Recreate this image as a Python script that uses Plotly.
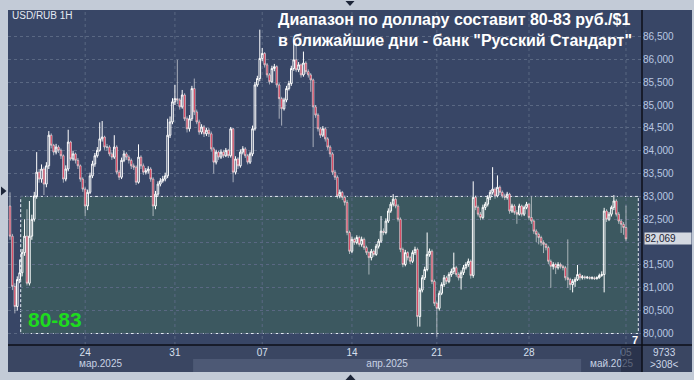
import plotly.graph_objects as go

# ---------------- data ----------------
SYMBOL = "USD/RUB 1H"
TITLE_L1 = "Диапазон по доллару составит 80-83 руб./$1"
TITLE_L2 = 'в ближайшие дни - банк "Русский Стандарт"'
range_low, range_high = 80, 83

first_open = 82.79
C = [82.13, 81.03, 80.59, 81.18, 81.33, 81.77, 82.13, 81.10, 82.13, 82.50, 83.01, 83.53, 83.38, 83.60, 83.27, 83.67, 84.34,
     84.12, 83.97, 84.08, 84.01, 83.89, 83.38, 83.60, 84.19, 83.82, 83.93, 83.79, 83.67, 83.38, 83.16, 82.79, 83.09, 83.45, 83.71, 83.89, 84.01, 84.26, 84.30, 84.08,
     84.08, 83.93, 83.86, 84.08, 83.53, 83.42, 83.79, 83.93, 83.86, 83.79, 83.67, 83.64, 83.31, 83.86, 83.67, 83.53, 83.56, 83.60, 83.38, 82.79,
     83.05, 83.27, 83.34, 83.38, 83.45, 84.34, 84.63, 85.07, 85.14, 85.11, 84.96, 85.22, 84.70, 84.48, 84.70, 85.36, 84.85, 84.63, 84.41, 84.52,
     84.37, 84.45, 84.37, 84.04, 83.75, 83.97, 83.86, 83.97, 83.89, 84.01, 83.89, 84.48, 83.53, 83.82, 83.67, 83.97, 84.04, 83.89, 83.75, 83.93,
     84.48, 85.44, 85.58, 86.02, 86.13, 85.88, 85.66, 85.51, 85.80, 85.84, 85.44, 85.14, 84.92, 85.11, 85.36, 85.47, 85.80, 85.99, 85.77, 85.88,
     85.66, 85.92, 85.73, 85.66, 85.55, 84.96, 84.78, 84.48, 84.34, 84.48, 84.26, 84.08, 83.93, 83.53, 83.42, 83.01, 83.09, 82.98, 82.87, 82.21,
     81.80, 82.06, 81.99, 82.10, 81.95, 82.06, 81.88, 81.77, 81.66, 81.80, 81.73, 81.91, 82.02, 82.24, 82.21, 82.46, 82.68, 82.83, 82.94, 82.79,
     82.50, 81.84, 81.51, 81.77, 81.66, 81.58, 81.77, 81.84, 80.37, 80.95, 81.22, 81.40, 81.73, 81.80, 81.14, 80.66, 80.55, 80.88, 81.07, 81.22,
     81.14, 81.29, 81.36, 81.44, 81.29, 81.22, 81.33, 81.44, 81.51, 81.58, 81.27, 82.98, 82.76, 82.61, 82.54, 82.76, 82.83, 82.98, 83.09, 83.16,
     83.01, 83.20, 83.09, 83.01, 82.98, 83.05, 82.68, 82.79, 82.65, 82.61, 82.79, 82.61, 82.76, 82.83, 82.54, 82.46, 82.24, 82.17, 82.10, 81.99,
     81.95, 81.88, 81.58, 81.47, 81.51, 81.44, 81.51, 81.47, 81.44, 81.22, 81.18, 81.07, 81.14, 81.18, 81.29, 81.22, 81.24, 81.22, 81.23, 81.21,
     81.22, 81.20, 81.22, 81.27, 81.29, 82.68, 82.50, 82.61, 82.76, 82.90, 82.61, 82.46, 82.39, 82.32, 82.069]
H = [83.09, 82.18, 81.10, 81.25, 81.62, 81.85, 82.50, 82.72, 82.90, 82.60, 83.10, 83.97, 83.60, 83.70, 83.65, 83.75, 84.43,
     84.38, 84.15, 84.15, 84.12, 84.05, 83.92, 83.68, 84.46, 84.22, 84.00, 83.96, 83.84, 83.70, 83.42, 83.20, 83.15, 83.52, 83.78, 83.95, 84.08, 84.62, 84.65, 84.33,
     84.15, 84.12, 83.98, 84.34, 84.12, 83.58, 83.85, 84.00, 83.97, 83.90, 83.83, 83.72, 83.68, 84.14, 83.90, 83.72, 83.62, 83.66, 83.64, 83.42,
     83.12, 83.33, 83.40, 83.45, 83.52, 84.70, 84.75, 85.15, 85.44, 85.99, 85.15, 85.33, 85.26, 84.75, 84.78, 85.42, 85.58, 84.90, 84.68, 84.58,
     84.56, 84.50, 84.50, 84.42, 84.08, 84.02, 84.00, 84.03, 84.02, 84.06, 84.04, 84.52, 84.50, 83.88, 83.86, 84.03, 84.10, 84.08, 83.93, 83.98,
     84.55, 85.50, 85.64, 86.65, 86.25, 86.16, 85.92, 85.70, 85.86, 85.90, 85.87, 85.48, 85.18, 85.16, 85.42, 85.53, 85.86, 86.43, 86.36, 85.94,
     85.91, 86.17, 85.96, 85.78, 85.70, 85.58, 85.00, 84.82, 84.52, 84.54, 84.52, 84.30, 84.12, 83.97, 83.58, 83.46, 83.15, 83.12, 83.02, 82.92,
     82.25, 82.12, 82.10, 82.15, 82.14, 82.12, 82.10, 81.92, 81.80, 81.85, 81.84, 81.96, 82.07, 82.57, 82.30, 82.52, 82.74, 82.88, 83.05, 82.98,
     82.83, 82.54, 81.88, 81.83, 81.80, 81.70, 81.82, 81.90, 81.88, 81.00, 81.28, 81.46, 82.21, 81.86, 81.84, 81.18, 80.70, 80.94, 81.12, 81.28,
     81.26, 81.34, 81.42, 81.77, 81.48, 81.34, 81.38, 81.50, 81.56, 81.64, 81.62, 83.33, 83.02, 82.80, 82.66, 82.82, 82.88, 83.03, 83.14, 83.64,
     83.20, 83.46, 83.24, 83.13, 83.06, 83.10, 83.08, 82.84, 82.83, 82.70, 82.84, 82.82, 82.80, 82.88, 82.86, 83.01, 82.50, 82.28, 82.21, 82.14,
     82.04, 81.98, 81.92, 81.62, 81.56, 81.55, 81.56, 81.55, 81.50, 81.48, 82.06, 81.22, 81.19, 81.23, 81.50, 81.33, 81.28, 81.27, 81.26, 81.25,
     81.25, 81.25, 81.25, 81.31, 81.36, 82.75, 82.72, 82.66, 82.80, 83.03, 82.94, 82.66, 82.50, 82.44, 82.80]
L = [82.05, 80.95, 80.44, 80.50, 81.10, 81.25, 81.70, 81.05, 81.05, 82.05, 82.45, 82.95, 83.30, 83.30, 83.03, 83.20, 83.60,
     84.05, 83.90, 83.92, 83.95, 83.82, 83.30, 83.33, 83.55, 83.78, 83.78, 83.72, 83.60, 83.32, 83.10, 82.57, 82.70, 83.05, 83.40, 83.65, 83.85, 83.98, 84.20, 84.02,
     84.00, 83.88, 83.80, 83.82, 83.48, 83.36, 83.38, 83.75, 83.80, 83.72, 83.60, 83.58, 83.25, 83.28, 83.60, 83.47, 83.48, 83.50, 83.32, 82.57,
     82.72, 83.00, 83.22, 83.30, 83.33, 83.40, 84.28, 84.58, 85.00, 85.02, 84.90, 84.92, 84.65, 84.40, 84.42, 84.65, 84.78, 84.58, 84.35, 84.36,
     84.30, 84.32, 84.30, 83.98, 83.50, 83.70, 83.80, 83.82, 83.84, 83.86, 83.84, 83.85, 83.31, 83.48, 83.60, 83.63, 83.92, 83.84, 83.70, 83.71,
     83.88, 84.44, 85.40, 85.52, 85.96, 85.82, 85.60, 85.45, 85.48, 85.74, 85.38, 84.70, 84.55, 84.88, 85.06, 85.32, 85.42, 85.75, 85.72, 85.72,
     85.60, 85.62, 85.68, 85.60, 85.29, 84.08, 84.72, 84.42, 84.28, 84.30, 84.20, 84.02, 83.86, 83.47, 83.36, 82.95, 82.96, 82.92, 82.80, 82.15,
     81.74, 81.76, 81.94, 81.95, 81.90, 81.90, 81.83, 81.72, 81.29, 81.60, 81.68, 81.70, 81.86, 81.98, 82.15, 82.17, 82.42, 82.64, 82.78, 82.74,
     82.45, 81.78, 81.45, 81.47, 81.60, 81.52, 81.54, 81.72, 80.15, 80.15, 80.90, 81.17, 81.36, 81.68, 81.08, 80.60, 79.93, 80.50, 80.84, 81.02,
     81.08, 81.10, 81.24, 81.30, 81.24, 81.16, 80.96, 81.28, 81.40, 81.46, 81.20, 81.22, 82.70, 82.56, 82.48, 82.50, 82.70, 82.78, 82.92, 83.04,
     82.95, 82.98, 83.03, 82.96, 82.92, 82.93, 82.62, 82.64, 82.60, 82.40, 82.58, 82.56, 82.57, 82.72, 82.48, 82.40, 82.18, 82.00, 81.95, 81.92,
     81.76, 81.82, 81.52, 81.00, 81.40, 81.30, 81.40, 81.42, 81.38, 81.16, 81.00, 80.95, 80.90, 81.02, 81.15, 81.16, 81.18, 81.18, 81.19, 81.18,
     81.18, 81.17, 81.18, 81.20, 81.24, 80.90, 82.44, 82.46, 82.56, 82.70, 82.56, 82.40, 82.20, 82.16, 82.02]
# hourly candles are contiguous: each open is the previous close
O = [first_open] + C[:-1]
bar = list(range(len(C)))

week_start_idx = [31, 68, 104, 141, 176, 214, 254]
week_labels = ["24", "31", "07", "14", "21", "28", "05"]
month_start_idx = [0, 76, 236]
month_labels = ["мар.2025", "апр.2025", "май.2025"]
y_ticks = [80.0, 80.5, 81.0, 81.5, 82.0, 82.5, 83.0, 83.5, 84.0, 84.5, 85.0, 85.5, 86.0, 86.5]
footer_lines = ["9733", ">308<"]
corner_mark = "7"

# ---------------- style ----------------
FRAME = "#c3cbd7"
BG = "#384666"
BOX = "#3c5860"
STRIP = "#3a4662"
STRIP_LIGHT = "#4d5975"
GRID = "#5a6883"
RED = "#d0203f"
FONT = "Liberation Sans, Arial, sans-serif"

W, HGT = 694, 380
ML, MR, MT, MB = 8, 52, 10, 8
PW, PH = W - ML - MR, HGT - MT - MB
STRIP_H = 27 / PH
XR = [-0.825, 260.6]
YR = [79.748, 87.08]


def px(xp):
    return (xp - ML) / PW


def py(yp):
    return (HGT - MB - yp) / PH


def fmt(v):
    return f"{v:.3f}".replace(".", ",")


last = C[-1]
# the last-price tag covers the tick label it sits on
tick_text = ["" if abs(v - last) < 0.12 else fmt(v) for v in y_ticks]

fig = go.Figure()
fig.add_trace(go.Candlestick(
    x=bar, open=O, high=H, low=L, close=C,
    increasing=dict(line=dict(color="#ffffff", width=1), fillcolor="rgba(0,0,0,0)"),
    decreasing=dict(line=dict(color="#f4f4f4", width=0.6), fillcolor=RED),
    whiskerwidth=0, hoverinfo="skip", xaxis="x", yaxis="y"))

# date strip labels
fig.add_trace(go.Scatter(x=week_start_idx, y=[19] * len(week_start_idx), mode="text",
                         text=week_labels, textfont=dict(color="#d8e0ee", size=10, family=FONT),
                         xaxis="x", yaxis="y2", hoverinfo="skip", cliponaxis=False))
bounds = [XR[0]] + [m - 0.5 for m in month_start_idx[1:]] + [XR[1]]
centers = [(bounds[i] + bounds[i + 1]) / 2 for i in range(len(month_labels))]
fig.add_trace(go.Scatter(x=centers, y=[7.5] * len(centers), mode="text",
                         text=month_labels, textfont=dict(color="#c8d2e4", size=10, family=FONT),
                         xaxis="x", yaxis="y2", hoverinfo="skip", cliponaxis=False))

shapes = []
shapes.append(dict(type="rect", xref="paper", yref="paper", x0=0, x1=1, y0=0, y1=STRIP_H,
                   fillcolor=STRIP, line=dict(width=0), layer="below"))
shapes.append(dict(type="rect", xref="paper", yref="paper", x0=1, x1=px(692), y0=STRIP_H, y1=1,
                   fillcolor=BG, line=dict(width=0), layer="below"))
shapes.append(dict(type="rect", xref="paper", yref="paper", x0=1, x1=px(692), y0=0, y1=STRIP_H,
                   fillcolor=STRIP, line=dict(width=0), layer="below"))
for i in range(len(month_labels)):
    if i % 2 == 1:
        shapes.append(dict(type="rect", xref="x", yref="y2", x0=bounds[i], x1=bounds[i + 1], y0=0, y1=13,
                           fillcolor=STRIP_LIGHT, line=dict(width=0), layer="below"))
shapes.append(dict(type="rect", xref="paper", yref="y", x0=px(20.7), x1=px(638.3), y0=range_low, y1=range_high,
                   fillcolor=BOX, line=dict(color="#e6ecf4", width=1, dash="3px,2px"), layer="below"))
for w in week_start_idx:
    shapes.append(dict(type="line", xref="x", yref="y domain", x0=w, x1=w, y0=0, y1=1,
                       line=dict(color=GRID, width=1, dash="dot"), layer="below"))
shapes.append(dict(type="rect", xref="paper", yref="paper", x0=px(621), x1=1, y0=0, y1=STRIP_H - 0.004,
                   fillcolor="rgba(34,42,64,0.65)", line=dict(width=0), layer="above"))
shapes.append(dict(type="line", xref="paper", yref="paper", x0=0, x1=px(692), y0=STRIP_H, y1=STRIP_H,
                   line=dict(color="#0c0f18", width=1.5), layer="above"))
shapes.append(dict(type="line", xref="paper", yref="paper", x0=1, x1=1, y0=0, y1=1,
                   line=dict(color="#0c0f18", width=1.5), layer="above"))
tri = "#1c2538"
shapes.append(dict(type="path", xref="paper", yref="paper",
                   path=f"M {px(345.5)} {py(1)} L {px(354.5)} {py(1)} L {px(350)} {py(6)} Z",
                   fillcolor=tri, line=dict(width=0)))
shapes.append(dict(type="path", xref="paper", yref="paper",
                   path=f"M {px(345.5)} {py(380)} L {px(355.5)} {py(380)} L {px(350.5)} {py(374.5)} Z",
                   fillcolor=tri, line=dict(width=0)))
shapes.append(dict(type="path", xref="paper", yref="paper",
                   path=f"M {px(1)} {py(186.5)} L {px(1)} {py(195.5)} L {px(6.5)} {py(191)} Z",
                   fillcolor=tri, line=dict(width=0)))

annotations = [
    dict(xref="paper", yref="paper", x=px(10), y=py(15), xanchor="left", yanchor="middle",
         text=SYMBOL, showarrow=False, font=dict(color="#e4e9f2", size=10, family=FONT)),
    dict(xref="paper", yref="paper", x=px(276), y=py(9), xanchor="left", yanchor="top", align="left",
         text=f"<b>{TITLE_L1}</b><br><b>{TITLE_L2}</b>", showarrow=False,
         font=dict(color="#ffffff", size=16, family=FONT)),
    dict(xref="paper", yref="paper", x=px(26), y=py(319.5), xanchor="left", yanchor="middle",
         text=f"<b>{range_low}-{range_high}</b>", showarrow=False,
         font=dict(color="#1edc1e", size=21, family=FONT)),
    dict(xref="paper", yref="paper", x=px(635), y=py(340), xanchor="center", yanchor="middle",
         text=f"<b>{corner_mark}</b>", showarrow=False, font=dict(color="#ffffff", size=11, family=FONT)),
    dict(xref="paper", yref="y", x=px(644), y=last, xanchor="left", yanchor="middle",
         text=fmt(last), showarrow=False, width=46, align="left",
         bgcolor="#d4d9e1", borderpad=0,
         font=dict(color="#1b2233", size=10, family=FONT)),
    dict(xref="paper", yref="paper", x=px(664), y=py(352.5), xanchor="center", yanchor="middle",
         text=footer_lines[0], showarrow=False, font=dict(color="#ccd6e8", size=10, family=FONT)),
    dict(xref="paper", yref="paper", x=px(664), y=py(364.5), xanchor="center", yanchor="middle",
         text=footer_lines[1], showarrow=False, font=dict(color="#ccd6e8", size=10, family=FONT)),
]

fig.update_layout(
    width=W, height=HGT, margin=dict(l=ML, r=MR, t=MT, b=MB, pad=0),
    paper_bgcolor=FRAME, plot_bgcolor=BG, showlegend=False, hovermode=False,
    separators=",.", font=dict(family=FONT), boxgap=0.05,
    xaxis=dict(range=XR, domain=[0, 1], anchor="y2", showgrid=False, zeroline=False,
               showticklabels=False, ticks="", showline=False,
               rangeslider=dict(visible=False), fixedrange=True),
    yaxis=dict(domain=[STRIP_H, 1], anchor="x", side="right", range=YR, tickvals=y_ticks,
               ticktext=tick_text, tickfont=dict(size=10, color="#b8c8e2", family=FONT),
               showgrid=True, gridcolor=GRID, gridwidth=1, griddash="dot", zeroline=False,
               ticks="", showline=False, fixedrange=True),
    yaxis2=dict(domain=[0, STRIP_H], anchor="x", range=[0, 27], visible=False, fixedrange=True),
    shapes=shapes, annotations=annotations,
)

fig.write_html("out.html")
